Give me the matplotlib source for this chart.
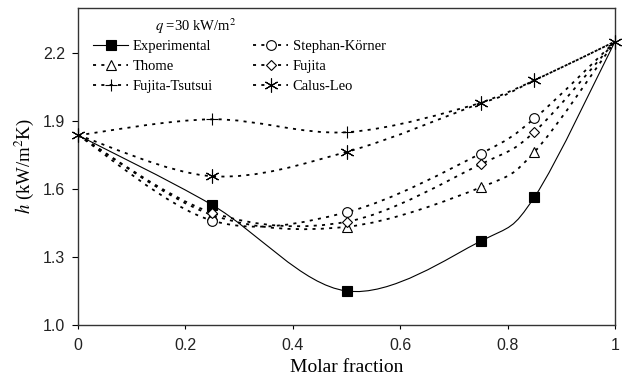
import numpy as np
import matplotlib
matplotlib.use("Agg")
import matplotlib.pyplot as plt
from matplotlib.path import Path
from matplotlib.patches import PathPatch
from matplotlib.lines import Line2D

plt.rcParams["mathtext.fontset"] = "stix"
plt.rcParams["lines.scale_dashes"] = False

SERIF = "Liberation Serif"
SANS = "Liberation Sans"

# ── data ─────────────────────────────────────────────────────────────────────
molar = [0.0, 0.25, 0.5, 0.75, 0.85, 1.0]
h_exp = [1.837, 1.529, 1.150, 1.370, 1.564, 2.250]
h_stephan = [1.837, 1.460, 1.497, 1.756, 1.911, 2.250]
h_thome = [1.837, 1.485, 1.433, 1.607, 1.763, 2.250]
h_fujita = [1.837, 1.495, 1.455, 1.709, 1.852, 2.250]
h_fts = [1.837, 1.907, 1.850, 1.979, 2.079, 2.250]
h_calus = [1.837, 1.656, 1.763, 1.979, 2.079, 2.250]

DASH = (0, (2.2, 3.8))


def smooth_path(x, y):
    """Excel-like smoothed line: cubic Bezier through the points."""
    p = np.column_stack([x, y])
    n = len(p)
    verts = [p[0]]
    codes = [Path.MOVETO]
    for i in range(n - 1):
        p_prev = p[max(i - 1, 0)]
        p_next2 = p[min(i + 2, n - 1)]
        c1 = p[i] + (p[i + 1] - p_prev) / 6
        c2 = p[i + 1] - (p_next2 - p[i]) / 6
        verts += [c1, c2, p[i + 1]]
        codes += [Path.CURVE4] * 3
    return Path(verts, codes)


fig = plt.figure(figsize=(6.22, 3.83), dpi=100)
ax = fig.add_axes([78 / 622, 1 - 325 / 383, (615 - 78) / 622, (325 - 7.5) / 383])

series = [
    # label, values, linestyle, marker, size, face, markevery
    ("Experimental", h_exp, "-", "s", 7, "black", [1, 2, 3, 4]),
    ("Thome", h_thome, DASH, "^", 7, "white", [1, 2, 3, 4]),
    ("Fujita-Tsutsui", h_fts, DASH, "+", 8.5, "none", [1, 2]),
    ("Stephan-Körner", h_stephan, DASH, "o", 7, "white", [1, 2, 3, 4]),
    ("Fujita", h_fujita, DASH, "D", 5, "white", [1, 2, 3, 4]),
    ("Calus-Leo", h_calus, DASH, (6, 2, 0), 10, "none", [0, 1, 2, 3, 4, 5]),
]

handles = []
for label, vals, ls, mk, ms, face, every in series:
    lw = 0.8 if ls == "-" else 1.3
    patch = PathPatch(smooth_path(molar, vals), fill=False, edgecolor="black",
                      linewidth=lw, linestyle=ls, zorder=2)
    ax.add_patch(patch)
    ax.plot(molar, vals, linestyle="none", marker=mk, markersize=ms,
            markerfacecolor=face, markeredgecolor="black", markeredgewidth=0.8,
            markevery=every, zorder=3, clip_on=False)
    handles.append(Line2D([], [], color="black", linewidth=lw, linestyle=ls,
                          marker=mk, markersize=ms, markerfacecolor=face,
                          markeredgecolor="black", markeredgewidth=0.8,
                          label=label))

ax.set_xlim(0, 1)
ax.set_ylim(1.0, 2.4)
ax.set_xticks([0, 0.2, 0.4, 0.6, 0.8, 1.0])
ax.set_xticklabels(["0", "0.2", "0.4", "0.6", "0.8", "1"])
ax.set_yticks([1.0, 1.3, 1.6, 1.9, 2.2])
ax.set_yticklabels(["1.0", "1.3", "1.6", "1.9", "2.2"])
for lab in ax.get_xticklabels() + ax.get_yticklabels():
    lab.set_fontfamily(SANS)
    lab.set_fontsize(11.5)
    lab.set_color("#222222")
ax.tick_params(axis="y", direction="out", length=4, width=0.8, pad=5)
ax.tick_params(axis="x", direction="out", length=3, width=0.8, pad=6)
for sp in ax.spines.values():
    sp.set_linewidth(1.0)
    sp.set_color("#333333")

ax.set_xlabel("Molar fraction", fontfamily=SERIF, fontsize=14, labelpad=5)
ax.set_ylabel(r"$h$ (kW/m$^2$K)", fontfamily=SERIF, fontsize=13.5, labelpad=5)

ax.text(155 / 622, 1 - 26 / 383, r"$q$ =30 kW/m$^2$", transform=fig.transFigure,
        fontfamily=SERIF, fontsize=10.5, va="center", ha="left")

fig.legend(handles=handles, ncol=2, frameon=False, loc="upper left",
           bbox_to_anchor=(93 / 622, 1 - 40 / 383), prop={"family": SERIF, "size": 10.5},
           handlelength=2.4, handletextpad=0.3, columnspacing=2.8,
           labelspacing=0.45, borderpad=0, borderaxespad=0, numpoints=1)

fig.savefig("out.png", dpi=100)
